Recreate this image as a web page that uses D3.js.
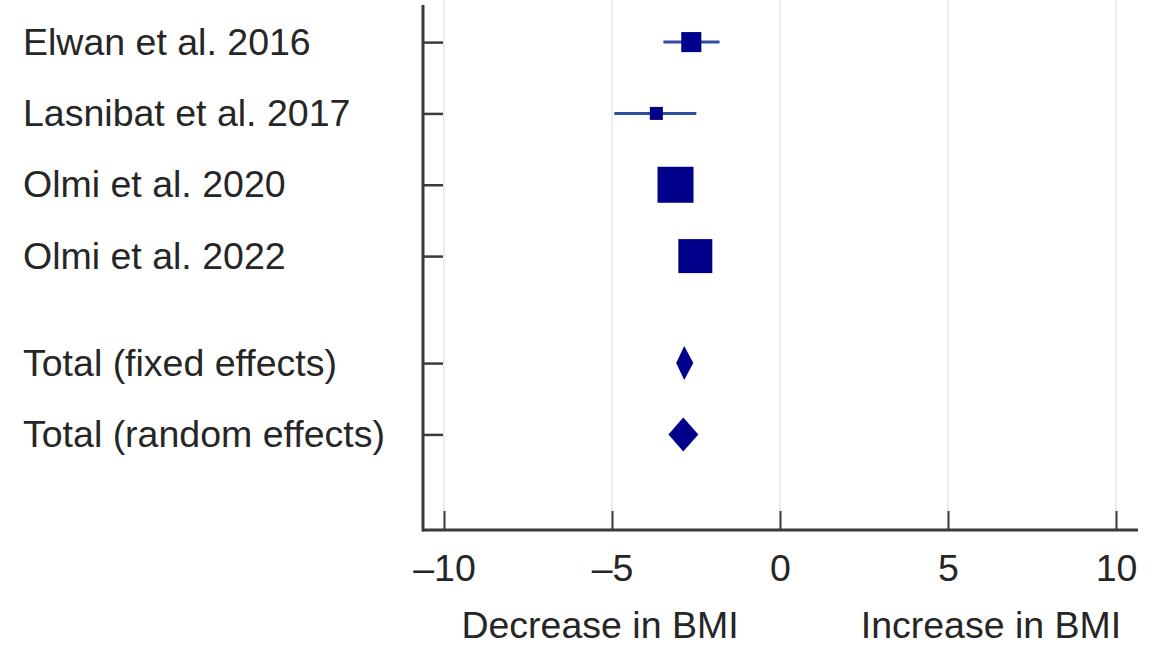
<!DOCTYPE html>
<html>
<head>
<meta charset="utf-8">
<script src="https://cdn.jsdelivr.net/npm/d3@7"></script>
<style>
  body { margin: 0; background: #fff; }
  text { font-family: "Liberation Sans", Arial, sans-serif; fill: #262626; }
</style>
</head>
<body>
<svg></svg>
<script>
// forest plot: change in BMI

let width = 1159,
    height = 647;

let studies = ["Elwan et al. 2016", "Lasnibat et al. 2017", "Olmi et al. 2020", "Olmi et al. 2022"];
let studyMean = [-2.64, -3.68, -3.11, -2.52];
let studyLow = [-3.47, -4.93, -3.45, -2.85];
let studyHigh = [-1.80, -2.49, -2.75, -2.20];
let studyWeight = [13.3, 5.6, 42.9, 38.2];

let totals = ["Total (fixed effects)", "Total (random effects)"];
let totalMean = [-2.85, -2.88];
let totalLow = [-3.09, -3.32];
let totalHigh = [-2.58, -2.43];

let xTicks = [-10, -5, 0, 5, 10];
let sideLabels = ["Decrease in BMI", "Increase in BMI"];

let svg = d3.select("svg")
    .attr("width", width)
    .attr("height", height);

let fontSize = 37.5;
let navy = "#00008a";

let x = d3.scaleLinear().domain([-10, 10]).range([444, 1116]);
let y = d3.scaleLinear().domain([-0.52, 6.84]).range([5, 530]);

// row index: studies first, then a gap, then the totals
let studyRows = studies.map((d, i) => i);
let totalRows = totals.map((d, i) => studies.length + 0.5 + i);

// gridlines
svg.append("g")
    .selectAll("line")
    .data(xTicks)
    .enter().append("line")
    .attr("x1", d => x(d)).attr("x2", d => x(d))
    .attr("y1", 0).attr("y2", y.range()[1])
    .attr("stroke", "#e3e7ef")
    .attr("stroke-width", 1.5);

// x axis, ticks pointing up
let xAxis = svg.append("g")
    .attr("transform", `translate(0,${y.range()[1]})`)
    .call(d3.axisBottom(x).tickValues(xTicks).tickSize(-19)
        .tickFormat(d => d < 0 ? "\u2013" + Math.abs(d) : d));
xAxis.select(".domain")
    .attr("d", `M423,0H1138`)
    .attr("stroke", "#3a3a3a").attr("stroke-width", 3);
xAxis.selectAll(".tick line").attr("stroke", "#3a3a3a").attr("stroke-width", 2);
xAxis.selectAll(".tick text")
    .attr("y", 51).attr("dy", 0)
    .attr("font-size", fontSize)
    .style("fill", "#262626");

// y axis, ticks pointing right
let allRows = studyRows.concat(totalRows);
let yAxis = svg.append("g")
    .attr("transform", "translate(423,0)")
    .call(d3.axisLeft(y).tickValues(allRows).tickSize(-20).tickFormat(""));
yAxis.select(".domain")
    .attr("d", `M0,${y.range()[0]}V${y.range()[1] + 1.5}`)
    .attr("stroke", "#3a3a3a").attr("stroke-width", 3);
yAxis.selectAll(".tick line").attr("stroke", "#3a3a3a").attr("stroke-width", 2.5);

// row labels
let labels = studies.concat(totals);
svg.append("g")
    .selectAll("text")
    .data(labels)
    .enter().append("text")
    .attr("x", 23)
    .attr("y", (d, i) => y(allRows[i]) + 12.5)
    .attr("font-size", fontSize)
    .text(d => d);

// study confidence intervals
svg.append("g")
    .selectAll("line")
    .data(studies)
    .enter().append("line")
    .attr("x1", (d, i) => x(studyLow[i]))
    .attr("x2", (d, i) => x(studyHigh[i]))
    .attr("y1", (d, i) => y(studyRows[i]))
    .attr("y2", (d, i) => y(studyRows[i]))
    .attr("stroke", "#2f4f9c")
    .attr("stroke-width", 3);

// squares sized by weight
let size = d3.scaleSqrt().domain([0, d3.max(studyWeight)]).range([0, 36]);
svg.append("g")
    .selectAll("rect")
    .data(studies)
    .enter().append("rect")
    .attr("x", (d, i) => x(studyMean[i]) - size(studyWeight[i]) / 2)
    .attr("y", (d, i) => y(studyRows[i]) - size(studyWeight[i]) / 2)
    .attr("width", (d, i) => size(studyWeight[i]))
    .attr("height", (d, i) => size(studyWeight[i]))
    .attr("fill", navy);

// pooled diamonds
let half = 17;
svg.append("g")
    .selectAll("path")
    .data(totals)
    .enter().append("path")
    .attr("d", (d, i) => {
        let cy = y(totalRows[i]);
        return `M${x(totalLow[i])},${cy}L${x(totalMean[i])},${cy - half}` +
               `L${x(totalHigh[i])},${cy}L${x(totalMean[i])},${cy + half}Z`;
    })
    .attr("fill", navy);

// direction labels under the axis
let sideX = [600, 991];
svg.append("g")
    .selectAll("text")
    .data(sideLabels)
    .enter().append("text")
    .attr("x", (d, i) => sideX[i])
    .attr("y", 638)
    .attr("text-anchor", "middle")
    .attr("font-size", fontSize)
    .text(d => d);
</script>
</body>
</html>
